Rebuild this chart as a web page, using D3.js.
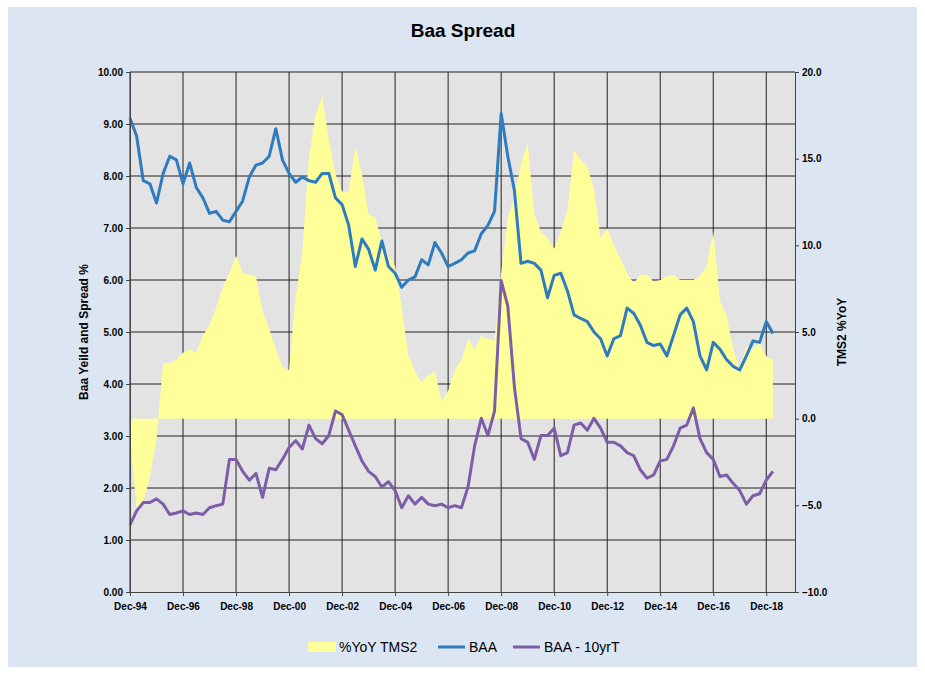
<!DOCTYPE html>
<html>
<head>
<meta charset="utf-8">
<script src="https://cdn.jsdelivr.net/npm/d3@7"></script>
<style>
  body { margin: 0; background: #fff; }
  text { font-family: "Liberation Sans", Arial, sans-serif; }
</style>
</head>
<body>
<svg id="chart" width="925" height="676"></svg>
<script>
// months since Dec-94, sampled quarterly
const months = d3.range(0, 292, 3);
const baa = [9.11,8.77,7.91,7.85,7.48,8.05,8.38,8.31,7.85,8.25,7.78,7.58,7.28,7.32,7.15,7.12,7.32,7.52,7.98,8.21,
  8.25,8.38,8.91,8.31,8.05,7.88,7.98,7.91,7.88,8.05,8.05,7.58,7.45,7.05,6.26,6.79,6.59,6.19,6.75,6.26,
  6.13,5.86,6.00,6.06,6.39,6.29,6.72,6.52,6.26,6.32,
  6.39,6.52,6.56,6.89,7.05,7.32,9.20,8.38,7.72,6.32,6.36,6.32,6.19,5.66,6.09,6.13,5.79,5.33,
  5.26,5.20,5.00,4.87,4.54,4.87,4.93,5.46,5.36,5.13,4.80,4.74,4.77,4.54,4.93,5.33,5.46,5.20,
  4.54,4.27,4.80,4.67,4.47,4.34,4.27,4.54,4.83,4.80,5.20,4.97];
const spread = [1.29,1.56,1.72,1.72,1.79,1.69,1.49,1.52,1.56,1.49,1.52,1.49,1.62,1.66,1.69,2.55,2.55,2.32,2.15,2.28,
  1.82,2.38,2.35,2.55,2.78,2.91,2.75,3.21,2.95,2.85,3.01,3.48,3.41,3.11,2.81,2.52,2.32,2.22,2.02,2.12,
  1.95,1.62,1.85,1.69,1.82,1.69,1.66,1.69,1.62,1.66,
  1.62,2.02,2.81,3.34,3.01,3.48,5.99,5.50,3.94,2.95,2.88,2.55,3.01,3.01,3.15,2.62,2.68,3.21,3.25,3.11,
  3.34,3.15,2.88,2.88,2.81,2.68,2.62,2.35,2.19,2.25,2.52,2.55,2.81,3.15,3.21,3.54,2.95,2.68,2.55,2.22,
  2.25,2.09,1.95,1.69,1.85,1.89,2.15,2.32];
const tms2 = [-1.0,-5.2,-4.8,-3.4,-1.2,3.2,3.2,3.4,3.8,4.0,3.8,4.8,5.4,6.4,7.6,8.4,9.4,8.4,8.3,8.2,
  6.2,5.2,4.0,3.0,2.8,7.0,9.6,15.1,17.5,18.6,16.1,14.1,13.1,13.1,15.7,14.1,11.8,11.6,10.2,9.4,
  8.8,6.4,3.7,2.7,2.1,2.5,2.7,1.0,1.6,2.8,
  3.4,4.6,4.0,4.8,4.6,4.5,8.4,11.6,12.8,14.7,15.9,11.8,10.8,10.4,9.8,10.8,12.0,15.5,14.9,14.5,
  13.3,10.4,11.0,10.0,9.2,8.4,7.8,8.3,8.3,7.9,8.0,8.2,8.3,8.0,8.0,8.0,8.2,8.8,10.8,6.8,
  6.0,4.0,2.8,4.2,4.0,4.4,3.6,3.4];
const xTicks = d3.range(0, 289, 24);
const xLabels = ["Dec-94","Dec-96","Dec-98","Dec-00","Dec-02","Dec-04","Dec-06","Dec-08","Dec-10","Dec-12","Dec-14","Dec-16","Dec-18"];

const svg = d3.select("#chart");
const pLeft = 130, pRight = 795, pTop = 72, pBottom = 592;

svg.append("rect").attr("x", 8).attr("y", 7).attr("width", 909).attr("height", 660).attr("fill", "#dce6f2");

const x = d3.scaleLinear().domain([0, 301]).range([pLeft, pRight]);
const yL = d3.scaleLinear().domain([0, 10]).range([pBottom, pTop]);
const yR = d3.scaleLinear().domain([-10, 20]).range([pBottom, pTop]);

svg.append("rect").attr("x", pLeft).attr("y", pTop).attr("width", pRight - pLeft).attr("height", pBottom - pTop).attr("fill", "#e3e3e3");

// grid
const grid = svg.append("g").attr("stroke", "#222").attr("stroke-width", 1);
d3.range(1, 11).forEach(v => grid.append("line").attr("x1", pLeft).attr("x2", pRight).attr("y1", yL(v)).attr("y2", yL(v)));
xTicks.forEach(m => grid.append("line").attr("x1", x(m)).attr("x2", x(m)).attr("y1", pTop).attr("y2", pBottom));

// yellow area
svg.append("path")
  .datum(months.map((m, i) => [m, tms2[i]]))
  .attr("fill", "#ffff99")
  .attr("d", d3.area().x(d => x(d[0])).y0(yR(0)).y1(d => yR(d[1])));

const line = (yS) => d3.line().x(d => x(d[0])).y(d => yS(d[1]));
svg.append("path").datum(months.map((m, i) => [m, baa[i]]))
  .attr("fill", "none").attr("stroke", "#2e7bbf").attr("stroke-width", 3).attr("stroke-linejoin", "round")
  .attr("d", line(yL));
svg.append("path").datum(months.map((m, i) => [m, spread[i]]))
  .attr("fill", "none").attr("stroke", "#7b5ea7").attr("stroke-width", 3).attr("stroke-linejoin", "round")
  .attr("d", line(yL));

// axes
const axL = svg.append("g").attr("transform", `translate(${pLeft},0)`)
  .call(d3.axisLeft(yL).ticks(10).tickFormat(d3.format(".2f")).tickSize(4).tickSizeOuter(0));
const axR = svg.append("g").attr("transform", `translate(${pRight},0)`)
  .call(d3.axisRight(yR).ticks(6).tickFormat(d3.format(".1f")).tickSize(4).tickSizeOuter(0));
const axB = svg.append("g").attr("transform", `translate(0,${pBottom})`)
  .call(d3.axisBottom(x).tickValues(xTicks).tickFormat((d, i) => xLabels[i]).tickSize(4).tickSizeOuter(0));
[axL, axR, axB].forEach(a => {
  a.selectAll("path, line").attr("stroke", "#444");
  a.selectAll("text").attr("font-size", 10).attr("font-weight", "bold").attr("fill", "#000");
});
axB.selectAll("text").attr("dy", "1.1em");

svg.append("text").attr("x", 463).attr("y", 37).attr("text-anchor", "middle")
  .attr("font-size", 19).attr("font-weight", "bold").text("Baa Spread");
svg.append("text").attr("transform", "translate(88,332) rotate(-90)").attr("text-anchor", "middle")
  .attr("font-size", 12).attr("font-weight", "bold").text("Baa Yeild and Spread %");
svg.append("text").attr("transform", "translate(846,332) rotate(-90)").attr("text-anchor", "middle")
  .attr("font-size", 12).attr("font-weight", "bold").text("TMS2 %YoY");

// legend
const legend = [
  {name: "%YoY TMS2", color: "#ffff99", type: "box", x: 308},
  {name: "BAA", color: "#2e7bbf", type: "line", x: 438},
  {name: "BAA - 10yrT", color: "#7b5ea7", type: "line", x: 513}
];
legend.forEach(l => {
  if (l.type === "box") svg.append("rect").attr("x", l.x).attr("y", 642).attr("width", 28).attr("height", 10).attr("fill", l.color);
  else svg.append("line").attr("x1", l.x).attr("x2", l.x + 27).attr("y1", 647).attr("y2", 647).attr("stroke", l.color).attr("stroke-width", 3);
  svg.append("text").attr("x", l.x + 31).attr("y", 652).attr("font-size", 14).text(l.name);
});
</script>
</body>
</html>
